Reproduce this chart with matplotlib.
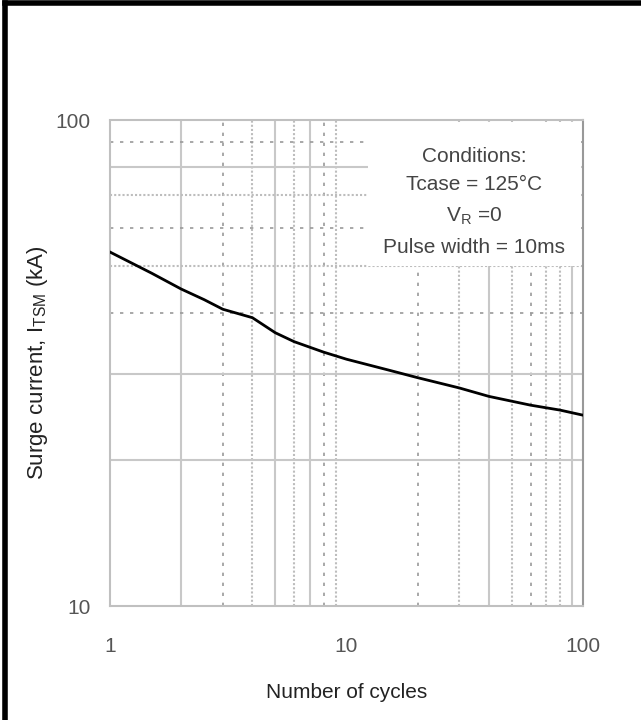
import matplotlib as mpl
mpl.use('Agg')
import matplotlib.pyplot as plt
from matplotlib.patches import Rectangle

plt.rcParams['font.family'] = ['Liberation Sans', 'DejaVu Sans']
plt.rcParams['mathtext.default'] = 'regular'

# values
cycles = [1, 1.5, 2, 2.5, 3, 4, 5, 6, 8, 10, 15, 20, 30, 40, 60, 80, 100]
current = [53.5, 48.4, 44.9, 42.7, 40.8, 39.2, 36.5, 35.0, 33.3, 32.2, 30.6, 29.5, 28.1, 27.0, 25.9, 25.3, 24.7]

xticks = [1, 10, 100]
yticks = [10, 100]
conditions = ['Conditions:', 'Tcase = 125°C', 'V$_R$ =0', 'Pulse width = 10ms']

# grid line styles, as in the scanned sheet
xgrid = {2: 's', 3: 'd', 4: 'o', 5: 's', 6: 'o', 7: 's', 8: 'd', 9: 'o',
         20: 'd', 30: 'o', 40: 's', 50: 'o', 60: 'd', 70: 'o', 80: 'o', 90: 's'}
ygrid = {20: 's', 30: 's', 40: 'd', 50: 'o', 60: 'd', 70: 'o', 80: 's', 90: 'd'}
styles = {'s': dict(color='#c8c8c8', lw=1.5, ls='-'),
          'd': dict(color='#9a9a9a', lw=1.2, ls=(0, (2, 4))),
          'o': dict(color='#bdbdbd', lw=1.5, ls=(0, (1, 1)))}

fig = plt.figure(figsize=(6.41, 7.2), dpi=100)
ax = fig.add_axes([0.1716, 0.1583, 0.7379, 0.675])
ax.set_xscale('log')
ax.set_yscale('log')
ax.set_xlim(1, 100)
ax.set_ylim(10, 100)

for v, s in xgrid.items():
    ax.axvline(v, zorder=1, **styles[s])
for v, s in ygrid.items():
    ax.axhline(v, zorder=1, **styles[s])

# white box behind the conditions text
ax.add_patch(Rectangle((0.545, 0.70), 0.45, 0.295, transform=ax.transAxes,
                       facecolor='white', edgecolor='none', zorder=2))
ypos = [0.925, 0.867, 0.802, 0.737]
for t, yy in zip(conditions, ypos):
    ax.text(0.77, yy, t, transform=ax.transAxes, ha='center', va='center',
            fontsize=15, color='#444444', zorder=3)

ax.plot(cycles, current, color='black', lw=2, zorder=4)

for sp in ['top', 'left', 'bottom']:
    ax.spines[sp].set_color('#c0c0c0')
    ax.spines[sp].set_linestyle((0, (1, 1)))
    ax.spines[sp].set_linewidth(1.5)
ax.spines['right'].set_color('#999999')
ax.spines['right'].set_linewidth(1.5)

ax.set_xticks(xticks)
ax.set_xticklabels([str(v) for v in xticks])
ax.set_yticks(yticks)
ax.set_yticklabels([str(v) for v in yticks])
ax.minorticks_off()
ax.tick_params(axis='x', length=0, pad=22, labelsize=15, labelcolor='#555555')
ax.tick_params(axis='y', length=0, pad=14, labelsize=15, labelcolor='#555555')

ax.set_xlabel('Number of cycles', fontsize=15, color='#222222', labelpad=20)
ax.set_ylabel('Surge current, I$_{TSM}$ (kA)', fontsize=16, color='#222222', labelpad=4)

# black frame on left and top of the figure
fig.add_artist(plt.Line2D([0.0078, 0.0078], [0, 0.9965], color='black', lw=4, transform=fig.transFigure))
fig.add_artist(plt.Line2D([0.0078, 1], [0.9965, 0.9965], color='black', lw=4, transform=fig.transFigure))

plt.savefig('out.png', dpi=100)
